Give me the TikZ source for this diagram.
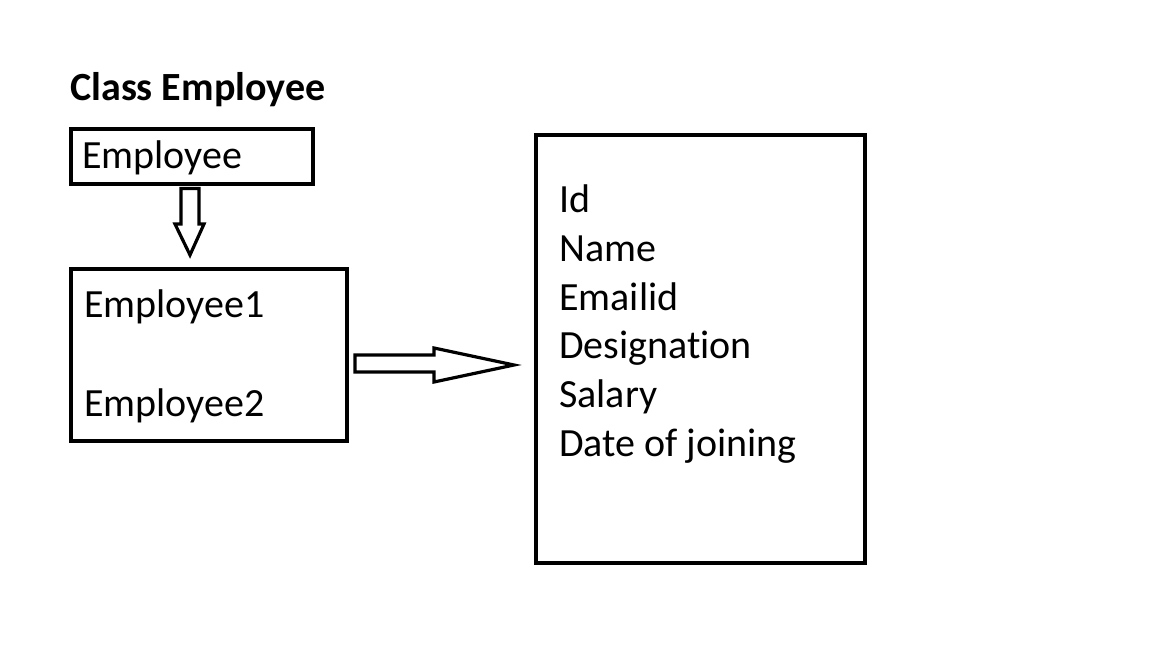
\documentclass[tikz,border=0pt]{standalone}
\usepackage{fontspec}
\setmainfont{Carlito}[Ligatures={NoCommon}]
\usepackage{tikz}
\usetikzlibrary{calc}

\begin{document}
\begin{tikzpicture}[x=0.75pt,y=-0.75pt,
    box/.style={draw, line width=3pt, inner sep=0pt},
    lbl/.style={anchor=base west, inner sep=0pt, font=\fontsize{30}{36}\selectfont},
    hollow/.style={draw, line width=2.4pt, line join=miter, fill=white}]
    \useasboundingbox (0,0) rectangle (1152,648);
    \node[lbl, font=\fontsize{30}{36}\selectfont\bfseries] (title) at (70,101) {Class Employee};
    % class box
    \node[box, minimum width=181.5pt, minimum height=41.25pt] (emp) at (192,157) {};
    \node[lbl] (empname) at (82,169) {Employee};
    % objects
    \node[box, minimum width=207pt, minimum height=128.25pt] (objs) at (209,355) {};
    \node[lbl] (obj1) at (84,318) {Employee1};
    \node[lbl] (obj2) at (84,416) {Employee2};
    % attributes
    \node[box, minimum width=246.75pt, minimum height=321pt] (attrs) at (700.5,349) {};
    \foreach \txt [count=\i from 0] in {Id, Name, Emailid, Designation, Salary, Date of joining}
        \node[lbl] (attr\i) at (559,213+48.6*\i) {\txt};
    % arrows
    \draw[hollow] ($(emp.south)+(-11,2)$) -- ++(0,35.5) -- ++(-6,0) -- ++(15,31)
        -- ++(14,-31) -- ++(-5,0) -- ++(0,-35.5) -- cycle;
    \draw[hollow] ($(objs.east)+(6,0)$) -- ++(79,0) -- ++(0,-7) -- ++(80,17)
        -- ++(-80,17) -- ++(0,-10) -- ++(-79,0) -- cycle;
\end{tikzpicture}
\end{document}
